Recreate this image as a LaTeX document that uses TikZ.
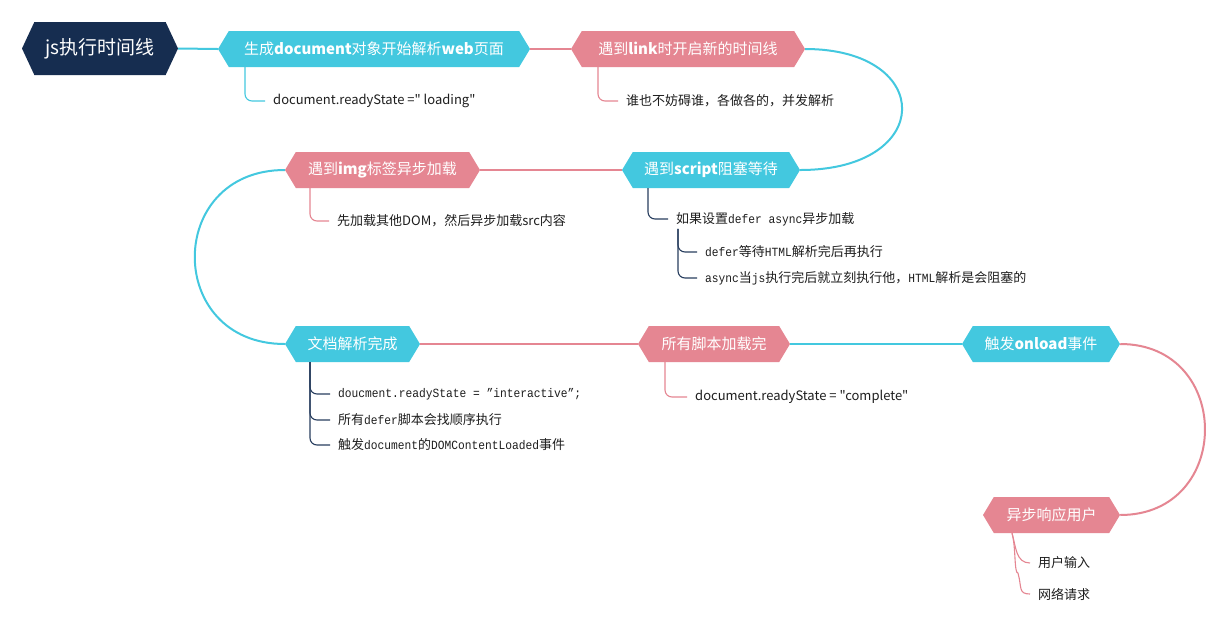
\documentclass[tikz,border=0pt]{standalone}
\usepackage{fontspec}
\setmainfont{Noto Sans CJK SC}[Ligatures=TeXOff]
\newfontfamily\monof{Liberation Mono}[FakeStretch=0.9]
\usetikzlibrary{shapes.symbols}
\definecolor{cyanc}{RGB}{67,200,223}
\definecolor{pinkc}{RGB}{229,134,146}
\definecolor{navyc}{RGB}{22,45,80}
\definecolor{navyline}{RGB}{40,62,95}
\definecolor{textc}{RGB}{30,30,30}
\newcommand\mo[1]{{\monof\fontsize{12.5}{15}\selectfont #1}}
\newcommand\nodefont{\fontsize{15}{18}\selectfont}
\newcommand\leaffont{\fontsize{13}{16}\selectfont}
\tikzset{
  hexbox/.style={shape=signal, signal to=east and west, signal pointer angle=118,
    minimum height=36pt, inner xsep=0pt, inner ysep=0pt, text=white, font=\nodefont},
  cy/.style={fill=cyanc},
  pk/.style={fill=pinkc},
  link/.style={line width=2pt},
  sub/.style={line width=1.1pt, rounded corners=7pt},
  leaf/.style={anchor=west, inner sep=0pt, font=\leaffont, text=textc}
}
\begin{document}
\begin{tikzpicture}[x=1pt,y=-1pt]
\useasboundingbox[fill=white] (0,0) rectangle (1226,625);
% main nodes
\node[hexbox, fill=navyc, minimum width=156pt, minimum height=53pt, signal pointer angle=130,
      font=\fontsize{19}{22}\selectfont] (root) at (100,48.5) {js执行时间线};
\node[hexbox,cy,minimum width=312pt] (n1) at (374,49) {生成\textbf{document}对象开始解析\textbf{web}页面};
\node[hexbox,pk,minimum width=234pt] (n2) at (688,49) {遇到\textbf{link}时开启新的时间线};
\node[hexbox,cy,minimum width=178pt] (n3) at (711,170) {遇到\textbf{script}阻塞等待};
\node[hexbox,pk,minimum width=195pt] (n4) at (382.5,170) {遇到\textbf{img}标签异步加载};
\node[hexbox,cy,minimum width=135pt] (n5) at (352.5,344) {文档解析完成};
\node[hexbox,pk,minimum width=152pt] (n6) at (714,344) {所有脚本加载完};
\node[hexbox,cy,minimum width=158pt] (n7) at (1041,344) {触发\textbf{onload}事件};
\node[hexbox,pk,minimum width=137pt] (n8) at (1051.5,515) {异步响应用户};
% main connectors
\draw[link,cyanc] (root.east) -- (n1.west);
\draw[link,pinkc] (n1.east) -- (n2.west);
\draw[link,cyanc] (n2.east) .. controls +(130,0) and +(135,0) .. (n3.east);
\draw[link,pinkc] (n3.west) -- (n4.east);
\draw[link,cyanc] (n4.west) .. controls +(-120,0) and +(-120,0) .. (n5.west);
\draw[link,pinkc] (n5.east) -- (n6.west);
\draw[link,cyanc] (n6.east) -- (n7.west);
\draw[link,pinkc] (n7.east) .. controls +(113,0) and +(113,0) .. (n8.east);
% leaves
\node[leaf] (c1) at (273,101) {document.readyState =" loading"};
\node[leaf] (c2) at (626,101) {谁也不妨碍谁，各做各的，并发解析};
\node[leaf] (c4) at (337,221) {先加载其他DOM，然后异步加载src内容};
\node[leaf] (c3) at (676,219) {如果设置\mo{defer async}异步加载};
\node[leaf] (d1) at (705,252) {\mo{defer}等待\mo{HTML}解析完后再执行};
\node[leaf] (d2) at (705,278) {\mo{async}当\mo{js}执行完后就立刻执行他，\mo{HTML}解析是会阻塞的};
\node[leaf] (e1) at (338,394) {\mo{doucment.readyState = ”interactive”;}};
\node[leaf] (e2) at (338,420) {所有\mo{defer}脚本会找顺序执行};
\node[leaf] (e3) at (338,445) {触发\mo{document}的\mo{DOMContentLoaded}事件};
\node[leaf] (f1) at (695,397) {document.readyState = "complete"};
\node[leaf] (g1) at (1038,563) {用户输入};
\node[leaf] (g2) at (1038,594) {网络请求};
% leaf connectors
\draw[sub,cyanc] ([xshift=-129pt]n1.south) |- ([xshift=-8pt]c1.west);
\draw[sub,pinkc] ([xshift=-90pt]n2.south) |- ([xshift=-8pt]c2.west);
\draw[sub,pinkc] ([xshift=-72.5pt]n4.south) |- ([xshift=-8pt]c4.west);
\draw[sub,navyline] ([xshift=-63pt]n3.south) |- ([xshift=-8pt]c3.west);
\draw[sub,navyline] ([xshift=2pt,yshift=-3pt]c3.south west) |- ([xshift=-8pt]d1.west);
\draw[sub,navyline] ([xshift=2pt,yshift=-3pt]c3.south west) |- ([xshift=-8pt]d2.west);
\draw[sub,navyline] ([xshift=-42.5pt]n5.south) |- ([xshift=-8pt]e1.west);
\draw[sub,navyline] ([xshift=-42.5pt]n5.south) |- ([xshift=-8pt]e2.west);
\draw[sub,navyline] ([xshift=-42.5pt]n5.south) |- ([xshift=-8pt]e3.west);
\draw[sub,pinkc] ([xshift=-49pt]n6.south) |- ([xshift=-8pt]f1.west);
\draw[line width=1.1pt,pinkc] ([xshift=-39.5pt]n8.south) .. controls +(4,14) and +(-14,0) .. ([xshift=-8pt]g1.west);
\draw[line width=1.1pt,pinkc] ([xshift=-39.5pt]n8.south) .. controls +(4,14) and +(-4,0) .. +(6,40) .. controls +(4,14) and +(-12,0) .. ([xshift=-8pt]g2.west);
\end{tikzpicture}
\end{document}
